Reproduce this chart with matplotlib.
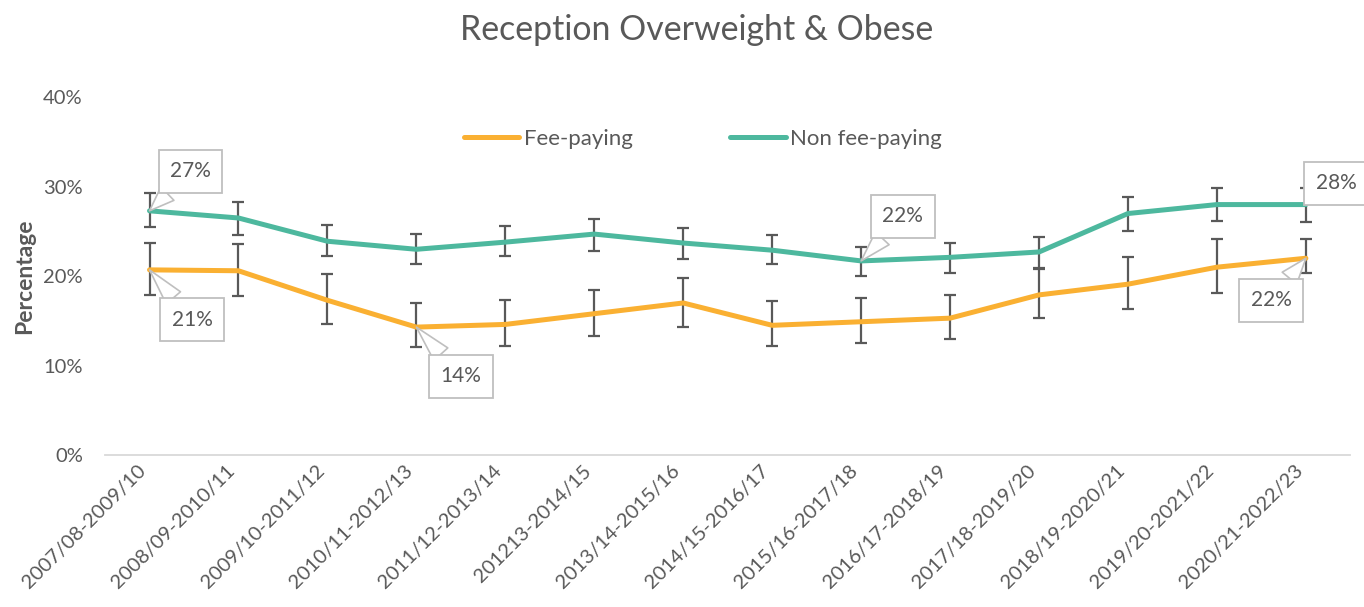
import numpy as np
import matplotlib.pyplot as plt

plt.rcParams['font.family'] = ['Lato', 'DejaVu Sans']

periods = ['2007/08-2009/10', '2008/09-2010/11', '2009/10-2011/12', '2010/11-2012/13',
           '2011/12-2013/14', '201213-2014/15', '2013/14-2015/16', '2014/15-2016/17',
           '2015/16-2017/18', '2016/17-2018/19', '2017/18-2019/20', '2018/19-2020/21',
           '2019/20-2021/22', '2020/21-2022/23']

fee = [20.7, 20.6, 17.3, 14.3, 14.6, 15.8, 17.0, 14.5, 14.9, 15.3, 17.9, 19.1, 21.0, 22.0]
fee_lo = [17.9, 17.8, 14.7, 12.1, 12.2, 13.3, 14.3, 12.2, 12.5, 13.0, 15.3, 16.3, 18.1, 20.3]
fee_hi = [23.7, 23.6, 20.2, 17.0, 17.3, 18.4, 19.8, 17.2, 17.5, 17.9, 20.8, 22.1, 24.2, 24.2]

nonfee = [27.3, 26.5, 23.9, 23.0, 23.8, 24.7, 23.7, 22.9, 21.7, 22.1, 22.7, 27.0, 28.0, 28.0]
nonfee_lo = [25.5, 24.6, 22.2, 21.3, 22.2, 22.8, 21.9, 21.3, 20.0, 20.4, 20.9, 25.1, 26.2, 26.1]
nonfee_hi = [29.3, 28.3, 25.7, 24.7, 25.6, 26.4, 25.4, 24.6, 23.3, 23.7, 24.4, 28.8, 29.9, 29.8]

# (series, index, label text, box offset in data units)
callouts = [('nonfee', 0, '27%', (0.46, 4.4)),
            ('fee', 0, '21%', (0.48, -5.6)),
            ('fee', 3, '14%', (0.5, -5.5)),
            ('nonfee', 8, '22%', (0.47, 5.0)),
            ('nonfee', 13, '28%', (0.34, 2.4)),
            ('fee', 13, '22%', (-0.39, -4.7))]

orange = '#FAB032'
green = '#4DB89E'
grey_text = '#595959'

fig = plt.figure(figsize=(13.64, 6.07), dpi=100)
ax = fig.add_axes([0.077, 0.2504, 0.913, 0.5894])

x = np.arange(len(periods))
series = {'fee': np.array(fee), 'nonfee': np.array(nonfee)}

ax.errorbar(x, fee, yerr=[np.array(fee) - fee_lo, np.array(fee_hi) - fee],
            fmt='none', ecolor='#595959', elinewidth=1.6, capsize=4.5, capthick=1.6, zorder=2)
ax.errorbar(x, nonfee, yerr=[np.array(nonfee) - nonfee_lo, np.array(nonfee_hi) - nonfee],
            fmt='none', ecolor='#595959', elinewidth=1.6, capsize=4.5, capthick=1.6, zorder=2)
ax.plot(x, fee, color=orange, lw=3.6, solid_capstyle='round', label='Fee-paying', zorder=3)
ax.plot(x, nonfee, color=green, lw=3.6, solid_capstyle='round', label='Non fee-paying', zorder=3)

for key, i, txt, (dx, dy) in callouts:
    yv = series[key][i]
    ax.annotate(txt, xy=(i, yv), xytext=(i + dx, yv + dy), ha='center', va='center',
                fontsize=15, color=grey_text,
                bbox=dict(boxstyle='square,pad=0.55', fc='white', ec='#BFBFBF', lw=1.3),
                arrowprops=dict(arrowstyle='wedge,tail_width=0.9,shrink_factor=0.5',
                                fc='white', ec='#BFBFBF', lw=1.2, shrinkA=0, shrinkB=0),
                zorder=5)

ax.set_xlim(-0.5, len(periods) - 0.5)
ax.set_ylim(0, 40)
ax.set_yticks([0, 10, 20, 30, 40])
ax.set_yticklabels(['0%', '10%', '20%', '30%', '40%'])
ax.set_xticks(x)
ax.set_xticklabels(periods, rotation=45, ha='right')
ax.tick_params(axis='both', length=0, labelsize=14.5, labelcolor=grey_text)
ax.tick_params(axis='y', pad=16)
ax.tick_params(axis='x', pad=5)

for s in ['top', 'right', 'left']:
    ax.spines[s].set_visible(False)
ax.spines['bottom'].set_color('#D9D9D9')
ax.spines['bottom'].set_linewidth(1.3)

ax.set_ylabel('Percentage', fontsize=16.5, fontweight='bold', color=grey_text, labelpad=6)

ax.legend(loc='center', bbox_to_anchor=(0.48, 0.883), ncol=2, frameon=False,
          fontsize=16, labelcolor=grey_text, handlelength=2.5, columnspacing=4.4,
          handletextpad=0.2)

fig.text(0.511, 0.95, 'Reception Overweight & Obese', ha='center', va='center',
         fontsize=24.4, color=grey_text)

fig.savefig('out.png', dpi=100)
